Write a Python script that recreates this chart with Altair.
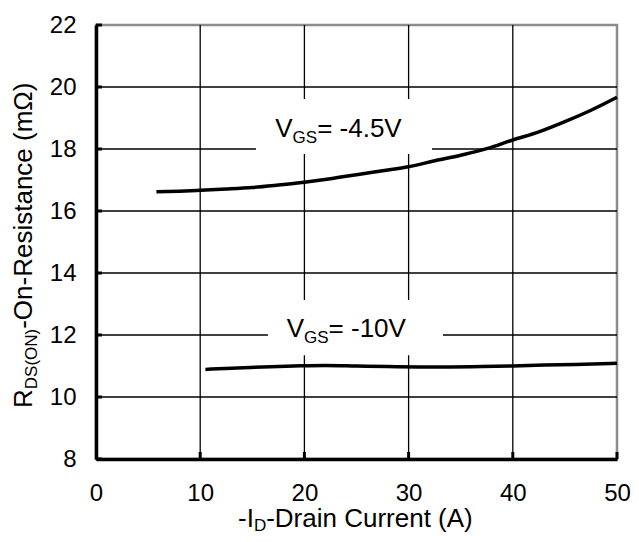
import altair as alt
import pandas as pd

FONT = "Liberation Sans"

# ---- data ----
id_45 = [5.8, 8, 10, 12.5, 15, 17.5, 20, 22.5, 25, 27.5, 30, 32.5, 35, 37.5, 40, 42.5, 45, 47.5, 50]
r_45 = [16.62, 16.64, 16.67, 16.71, 16.76, 16.84, 16.93, 17.04, 17.17, 17.30, 17.43, 17.62, 17.80, 18.01, 18.29, 18.55, 18.88, 19.25, 19.67]
id_10 = [10.5, 13, 16, 19, 22, 25, 28, 31, 34, 37, 40, 43, 46, 50]
r_10 = [10.89, 10.93, 10.97, 11.0, 11.02, 11.0, 10.98, 10.97, 10.97, 10.98, 11.0, 11.03, 11.05, 11.09]

x_ticks = [0, 10, 20, 30, 40, 50]
y_ticks = [8, 10, 12, 14, 16, 18, 20, 22]
grid_x = [10, 20, 30, 40]
grid_y = [10, 12, 14, 16, 18, 20]

# label boxes (white background that interrupts the grid), data units
box_x1 = [15.35, 16.5]
box_x2 = [32.25, 33.3]
box_y1 = [17.84, 11.35]
box_y2 = [19.61, 13.13]

# label anchors, data units
ann_x = [17.2, 18.3]
ann_y = [18.40, 11.95]
ann_main = ["V", "V"]
ann_sub = ["GS", "GS"]
ann_rest = ["= -4.5V", "= -10V"]

W, H = 521, 434
XS = alt.Scale(domain=[0, 50], nice=False, zero=False)
YS = alt.Scale(domain=[8, 22], nice=False, zero=False)

MAIN = 26
SUB = 17

curves = pd.DataFrame({
    "x": id_45 + id_10,
    "y": r_45 + r_10,
    "s": ["-4.5"] * len(id_45) + ["-10"] * len(id_10),
})

# invisible layer that carries the axes
axes_layer = alt.Chart(curves).mark_point(opacity=0).encode(
    x=alt.X("x:Q", scale=XS, title=None, axis=alt.Axis(values=x_ticks, labelPadding=22)),
    y=alt.Y("y:Q", scale=YS, title=None, axis=alt.Axis(values=y_ticks, labelPadding=20)),
)

line = alt.Chart(curves).mark_line(color="black", strokeWidth=3.5, interpolate="monotone").encode(
    x=alt.X("x:Q", scale=XS, title=None),
    y=alt.Y("y:Q", scale=YS, title=None),
    detail="s:N",
)

vgrid = alt.Chart(pd.DataFrame({"x": grid_x})).mark_rule(color="black", strokeWidth=1.3).encode(
    x=alt.X("x:Q", scale=XS, title=None), y=alt.value(0), y2=alt.value(H))
hgrid = alt.Chart(pd.DataFrame({"y": grid_y})).mark_rule(color="black", strokeWidth=1.3).encode(
    y=alt.Y("y:Q", scale=YS, title=None), x=alt.value(0), x2=alt.value(W))

ytk = alt.Chart(pd.DataFrame({"y": y_ticks})).mark_rule(color="black", strokeWidth=3).encode(
    y=alt.Y("y:Q", scale=YS, title=None), x=alt.value(0), x2=alt.value(6))
xtk = alt.Chart(pd.DataFrame({"x": x_ticks[1:]})).mark_rule(color="black", strokeWidth=3).encode(
    x=alt.X("x:Q", scale=XS, title=None), y=alt.value(H), y2=alt.value(H - 7))

boxes = alt.Chart(pd.DataFrame({"x": box_x1, "x2": box_x2, "y": box_y1, "y2": box_y2})).mark_rect(
    color="white").encode(
    x=alt.X("x:Q", scale=XS, title=None), x2="x2:Q",
    y=alt.Y("y:Q", scale=YS, title=None), y2="y2:Q")

ann = pd.DataFrame({"x": ann_x, "y": ann_y, "m": ann_main, "s": ann_sub, "r": ann_rest})
w_v = 0.667 * MAIN
w_gs = 1.445 * SUB
ann_base = alt.Chart(ann).encode(
    x=alt.X("x:Q", scale=XS, title=None), y=alt.Y("y:Q", scale=YS, title=None))
t1 = ann_base.mark_text(align="left", baseline="alphabetic", font=FONT, fontSize=MAIN, color="black").encode(text="m:N")
t2 = ann_base.mark_text(align="left", baseline="alphabetic", font=FONT, fontSize=SUB, color="black",
                        dx=w_v, dy=6).encode(text="s:N")
t3 = ann_base.mark_text(align="left", baseline="alphabetic", font=FONT, fontSize=MAIN, color="black",
                        dx=w_v + w_gs).encode(text="r:N")

# x-axis title: "-I" + sub "D" + "-Drain Current (A)"
xt_parts = ["-I", "D", "-Drain Current (A)"]
xt_w1 = 0.611 * MAIN
xt_w2 = 0.722 * SUB
xt_x, xt_y = 142, 502
xt1 = alt.Chart(pd.DataFrame({"t": [xt_parts[0]]})).mark_text(
    align="left", baseline="alphabetic", font=FONT, fontSize=MAIN, color="black").encode(
    x=alt.value(xt_x), y=alt.value(xt_y), text="t:N")
xt2 = alt.Chart(pd.DataFrame({"t": [xt_parts[1]]})).mark_text(
    align="left", baseline="alphabetic", font=FONT, fontSize=SUB, color="black", dx=xt_w1, dy=4).encode(
    x=alt.value(xt_x), y=alt.value(xt_y), text="t:N")
xt3 = alt.Chart(pd.DataFrame({"t": [xt_parts[2]]})).mark_text(
    align="left", baseline="alphabetic", font=FONT, fontSize=MAIN, color="black", dx=xt_w1 + xt_w2).encode(
    x=alt.value(xt_x), y=alt.value(xt_y), text="t:N")

# y-axis title: "R" + sub "DS(ON)" + "-On-Resistance (mΩ)", rotated
yt_parts = ["R", "DS(ON)", "-On-Resistance (mΩ)"]
yt_w1 = 0.722 * MAIN
yt_w2 = 3.555 * SUB
yt_x, yt_y = -64, 383
yt1 = alt.Chart(pd.DataFrame({"t": [yt_parts[0]]})).mark_text(
    align="left", baseline="alphabetic", font=FONT, fontSize=MAIN, color="black", angle=270).encode(
    x=alt.value(yt_x), y=alt.value(yt_y), text="t:N")
yt2 = alt.Chart(pd.DataFrame({"t": [yt_parts[1]]})).mark_text(
    align="left", baseline="alphabetic", font=FONT, fontSize=SUB, color="black", angle=270, dx=yt_w1, dy=5).encode(
    x=alt.value(yt_x), y=alt.value(yt_y), text="t:N")
yt3 = alt.Chart(pd.DataFrame({"t": [yt_parts[2]]})).mark_text(
    align="left", baseline="alphabetic", font=FONT, fontSize=MAIN, color="black", angle=270, dx=yt_w1 + yt_w2).encode(
    x=alt.value(yt_x), y=alt.value(yt_y), text="t:N")

chart = alt.layer(
    axes_layer, vgrid, hgrid, boxes, ytk, xtk, line, t1, t2, t3, xt1, xt2, xt3, yt1, yt2, yt3
).properties(
    width=W, height=H,
    background="white",
    autosize=alt.AutoSizeParams(type="none"),
    padding={"left": 88, "top": 17, "right": 14, "bottom": 75},
).configure_view(
    stroke="#8c8c8c", strokeWidth=2.5
).configure_axis(
    grid=False, ticks=False, labelFont=FONT, labelFontSize=24, labelColor="black",
    domainColor="black", domainWidth=3.5, labelFlush=False
)

chart.save("out.html", embed_options={"renderer": "svg", "actions": False})
